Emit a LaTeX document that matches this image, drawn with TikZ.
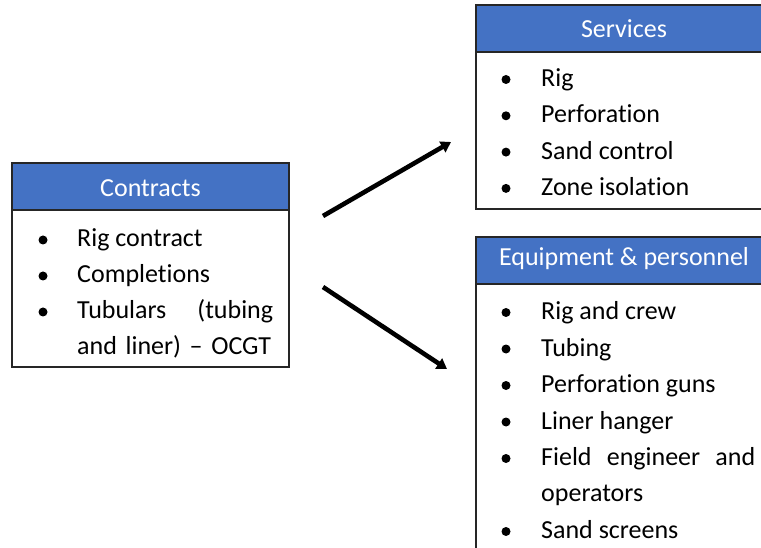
\documentclass[tikz,border=0pt]{standalone}
\usepackage{fontspec}
\setmainfont{Carlito}[Ligatures=NoCommon]
\usetikzlibrary{arrows.meta,positioning}
\definecolor{hdrblue}{HTML}{4472C4}
\definecolor{boxline}{HTML}{262626}

\begin{document}
\begin{tikzpicture}[x=1pt,y=-1pt,>=Latex,font=\fontsize{26}{36}\selectfont,
 hdr/.style={draw=boxline,fill=hdrblue,line width=1.4pt},
 frame/.style={draw=boxline,line width=1.4pt},
 hdrtext/.style={anchor=base,inner sep=0pt,text=white},
 item/.style={anchor=base west,inner sep=0pt},
 link/.style={line width=4.6pt,-{Triangle[length=10pt,width=12pt]}}]
\useasboundingbox (0,0) rectangle (761,548);
\clip (0,0) rectangle (761,548);
% contracts
\draw[frame] (12,163) rectangle (289,367);
\draw[hdr] (12,163) rectangle (289,210);
\node[hdrtext] (contracts) at (150.5,197) {Contracts};
\foreach \t [count=\i] in {Rig contract,Completions}{
 \node[item] (c\i) at (77,{247+36*(\i-1)}) {\t};
 \fill (43,{240+36*(\i-1)}) circle (4.5);
}
\node[item,text width=196pt,align=left] (c3) at (77,319)
 {Tubulars\hfill(tubing\\and liner) -- OCGT};
\fill (43,312) circle (4.5);
% services
\draw[frame] (476,5) rectangle (772,209);
\draw[hdr] (476,5) rectangle (772,52);
\node[hdrtext] (services) at (624,38) {Services};
\foreach \t [count=\i] in {Rig,Perforation,Sand control,Zone isolation}{
 \node[item] (s\i) at (541,{86.5+36.3*(\i-1)}) {\t};
 \fill (506,{79.5+36.3*(\i-1)}) circle (4.5);
}
% equipment and personnel
\draw[frame] (476,237) rectangle (772,570);
\draw[hdr] (476,237) rectangle (772,284);
\node[hdrtext] (equip) at (624,266) {Equipment \& personnel};
\foreach \t/\y in {Rig and crew/319.5,Tubing/356,Perforation guns/392.5,Liner hanger/429,Sand screens/538.5}{
 \node[item] at (541,\y) {\t};
 \fill (506,\y-7) circle (4.5);
}
\node[item,text width=214pt,align=left] (e5) at (541,465.5)
 {Field\hfill engineer\hfill and\\operators};
\fill (506,458.5) circle (4.5);
% arrows
\coordinate (upfrom) at (323,216);
\coordinate (upto) at (451,142);
\coordinate (downfrom) at (323,287);
\coordinate (downto) at (447,369);
\draw[link] (upfrom) -- (upto);
\draw[link] (downfrom) -- (downto);
\end{tikzpicture}
\end{document}
